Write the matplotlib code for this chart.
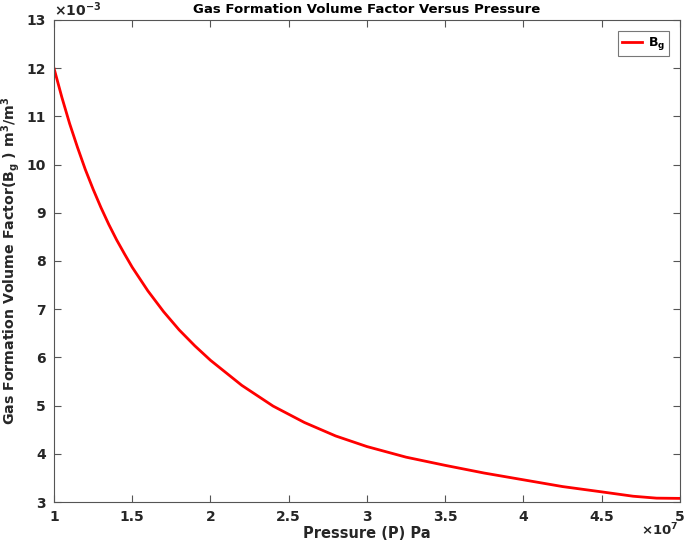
import matplotlib
matplotlib.use('Agg')
import matplotlib.pyplot as plt

# pressure in units of 1e7 Pa, Bg in units of 1e-3 m3/m3
pressure = [1.0, 1.05, 1.1, 1.15, 1.2, 1.25, 1.3, 1.35, 1.4, 1.45, 1.5, 1.6, 1.7,
            1.8, 1.9, 2.0, 2.2, 2.4, 2.6, 2.8, 3.0, 3.25, 3.5, 3.75, 4.0, 4.25,
            4.5, 4.7, 4.85, 5.0]
bg = [12.0, 11.40, 10.85, 10.36, 9.90, 9.49, 9.11, 8.76, 8.44, 8.15, 7.87, 7.38,
      6.95, 6.57, 6.24, 5.94, 5.42, 4.99, 4.65, 4.37, 4.15, 3.93, 3.76, 3.60,
      3.46, 3.32, 3.21, 3.12, 3.08, 3.075]
xticks = [1, 1.5, 2, 2.5, 3, 3.5, 4, 4.5, 5]
xticklabels = ['1', '1.5', '2', '2.5', '3', '3.5', '4', '4.5', '5']
yticks = list(range(3, 14))

plt.rcParams['font.family'] = 'DejaVu Sans'
plt.rcParams['font.weight'] = 'bold'
plt.rcParams['mathtext.default'] = 'bf'

axis_col = '#555555'
text_col = '#262626'

fig = plt.figure(figsize=(6.85, 5.43), dpi=100)
ax = fig.add_axes([0.0788, 0.0755, 0.9139, 0.8877])

ax.plot(pressure, bg, color='#ff0000', linewidth=2.0, label=r'$B_g$')

ax.set_xlim(1, 5)
ax.set_ylim(3, 13)
ax.set_xticks(xticks)
ax.set_xticklabels(xticklabels)
ax.set_yticks(yticks)
ax.tick_params(direction='in', top=True, right=True, length=5, width=0.8,
               colors=axis_col, labelcolor=text_col, labelsize=10, pad=6)
for lab in ax.get_xticklabels() + ax.get_yticklabels():
    lab.set_fontweight('bold')
for sp in ax.spines.values():
    sp.set_color(axis_col)
    sp.set_linewidth(0.8)

ax.set_title('Gas Formation Volume Factor Versus Pressure', fontsize=9.5,
             fontweight='bold', color='black', pad=5)
ax.set_xlabel('Pressure (P) Pa', fontsize=10.5, fontweight='bold', color=text_col, labelpad=1)
ax.set_ylabel(r'Gas Formation Volume Factor(B$_g$ ) m$^3$/m$^3$', fontsize=10.2,
              fontweight='bold', color=text_col, labelpad=3)

# MATLAB style exponent markers
ax.text(0.0, 1.003, r'$\times$10$^{-3}$', transform=ax.transAxes, fontsize=10,
        color=text_col, ha='left', va='bottom')
ax.text(0.997, -0.04, r'$\times$10$^{7}$', transform=ax.transAxes, fontsize=9.5,
        color=text_col, ha='right', va='top')

leg = ax.legend(loc='upper right', fontsize=9, frameon=True, fancybox=False,
                edgecolor=axis_col, handlelength=1.6, handletextpad=0.5,
                borderpad=0.3, borderaxespad=0.9)
leg.get_frame().set_linewidth(0.8)

fig.savefig('out.png', dpi=100)
